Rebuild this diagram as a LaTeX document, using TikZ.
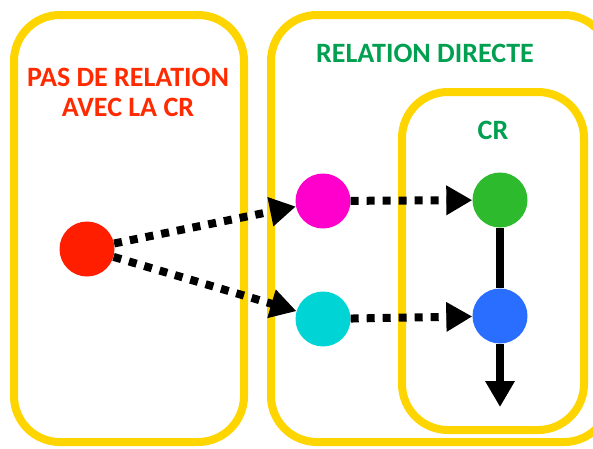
\documentclass[tikz,border=0pt]{standalone}
\usepackage{fontspec}
\setmainfont{Carlito}
\usetikzlibrary{arrows.meta}
\definecolor{boxyellow}{HTML}{FFD500}
\definecolor{textred}{HTML}{FF2A00}
\definecolor{textgreen}{HTML}{00A050}
\definecolor{dotred}{HTML}{FF1E00}
\definecolor{dotmagenta}{HTML}{FF00CC}
\definecolor{dotgreen}{HTML}{2DBA2D}
\definecolor{dotcyan}{HTML}{00D4D4}
\definecolor{dotblue}{HTML}{2A6EFF}

\begin{document}
\begin{tikzpicture}[x=1pt, y=-1pt,
    zone/.style={draw=boxyellow, line width=8pt, rounded corners=46pt},
    dot/.style={circle, minimum size=55pt, inner sep=0pt},
    title/.style={font=\bfseries\fontsize{28}{30}\selectfont, align=center},
    link/.style={line width=8pt, dash pattern=on 8pt off 8pt, -{Triangle[length=26pt,width=28pt]}},
    flow/.style={line width=8pt}]
\useasboundingbox (0,0) rectangle (593,448);
\clip (0,0) rectangle (593,448);
% Draw zones
\draw[zone] (14,15) rectangle (244,442);
\draw[zone] (271,15) rectangle (610,442);
\draw[zone] (402,92) rectangle (584,430);
% Draw titles
\node[title, textred] (nolink) at (128,92) {PAS DE RELATION\\AVEC LA CR};
\node[title, textgreen] (direct) at (425,53) {RELATION DIRECTE};
\node[title, textgreen] (cr) at (493,130) {CR};
% Draw dots
\node[dot, fill=dotred] (red) at (87,249) {};
\node[dot, fill=dotmagenta] (magenta) at (323,201) {};
\node[dot, fill=dotgreen] (green) at (500,200) {};
\node[dot, fill=dotcyan] (cyan) at (323,319) {};
\node[dot, fill=dotblue] (blue) at (500,316) {};
\coordinate (out) at (500,407);
% Draw links
\draw[link] (red) -- (magenta);
\draw[link] (red) -- (cyan);
\draw[link] (magenta) -- (green);
\draw[link] (cyan) -- (blue);
\draw[flow] (green) -- (blue);
\draw[flow, -{Triangle[length=26pt,width=28pt]}] (blue) -- (out);
\end{tikzpicture}
\end{document}
